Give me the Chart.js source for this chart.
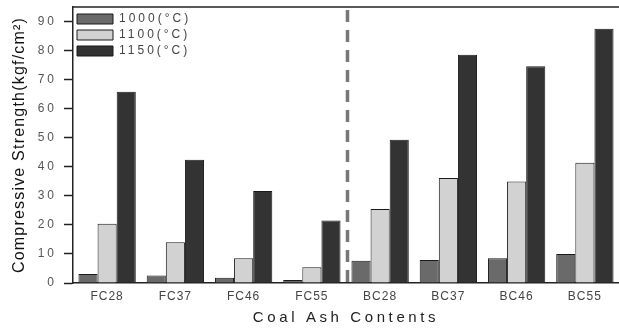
<!DOCTYPE html>
<html>
<head>
<meta charset="utf-8">
<script src="https://cdn.jsdelivr.net/npm/chart.js@4.4.1/dist/chart.umd.min.js"></script>
<style>
  html, body { margin: 0; padding: 0; background: #fff; }
  #wrap { width: 619px; height: 329px; }
</style>
</head>
<body>
<div id="wrap"><canvas id="chart" width="619" height="329"></canvas></div>
<script>
// values (kgf/cm2)
const categories = ["FC28", "FC37", "FC46", "FC55", "BC28", "BC37", "BC46", "BC55"];
const series1000 = [3.1, 2.6, 1.8, 1.0, 7.7, 7.9, 8.5, 10.0];
const series1100 = [20.4, 14.0, 8.5, 5.4, 25.5, 36.1, 34.9, 41.4];
const series1150 = [65.8, 42.4, 31.7, 21.5, 49.3, 78.6, 74.6, 87.5];
const seriesLabels = ["1000(°C)", "1100(°C)", "1150(°C)"];
const yMax = 95;
const yStep = 5;
const separatorAfter = 3; // dashed line between FC55 and BC28

Chart.defaults.font.family = "'Liberation Sans', Arial, sans-serif";

// canvas letter spacing for one draw method of a scale / the legend
function spaceOut(target, method, px) {
  if (!target || target["_sp_" + method]) return;
  const orig = target[method];
  target[method] = function (...args) {
    const ctx = this.ctx;
    const old = ctx.letterSpacing;
    ctx.letterSpacing = px + "px";
    try {
      return orig.apply(this, args);
    } finally {
      ctx.letterSpacing = old;
    }
  };
  target["_sp_" + method] = true;
}

const spacingPlugin = {
  id: "spacing",
  afterLayout(chart) {
    // legend sits inside the plot, just under the top frame
    const lg = chart.legend;
    if (lg) {
      const dy = chart.chartArea.top + 2 - lg.top;
      lg.top += dy;
      lg.bottom += dy;
    }
  },
  beforeDraw(chart) {
    spaceOut(chart.scales.x, "drawLabels", 1);
    spaceOut(chart.scales.x, "drawTitle", 3.6);
    spaceOut(chart.scales.y, "drawLabels", 3);
    spaceOut(chart.scales.y, "drawTitle", 1.2);
    spaceOut(chart.legend, "draw", 3);
  },
};

const framePlugin = {
  id: "frame",
  beforeDatasetsDraw(chart) {
    const { ctx, chartArea, scales: { x } } = chart;
    const sx = x.getPixelForValue(separatorAfter + 0.5) + 1.5;
    ctx.save();
    ctx.setLineDash([12, 8]);
    ctx.strokeStyle = "#777";
    ctx.lineWidth = 3.5;
    ctx.beginPath();
    ctx.moveTo(sx, chartArea.top + 3);
    ctx.lineTo(sx, chartArea.bottom);
    ctx.stroke();
    ctx.restore();
  },
  afterDraw(chart) {
    const { ctx, chartArea, scales: { y } } = chart;
    ctx.save();
    ctx.strokeStyle = "#222";
    ctx.lineWidth = 1.5;
    ctx.beginPath();
    ctx.moveTo(chartArea.left, chartArea.top);
    ctx.lineTo(chartArea.right, chartArea.top);
    // short minor ticks
    y.ticks.forEach((t) => {
      if (t.value % 10 !== 0) {
        const py = y.getPixelForValue(t.value);
        ctx.moveTo(chartArea.left - 5, py);
        ctx.lineTo(chartArea.left, py);
      }
    });
    ctx.stroke();
    ctx.restore();
  },
};

const barStyle = {
  borderColor: "#1a1a1a",
  borderWidth: 1,
  barPercentage: 1,
  categoryPercentage: 0.84,
};

new Chart(document.getElementById("chart"), {
  type: "bar",
  data: {
    labels: categories,
    datasets: [
      { label: seriesLabels[0], data: series1000, backgroundColor: "#6a6a6a", ...barStyle },
      { label: seriesLabels[1], data: series1100, backgroundColor: "#d2d2d2", ...barStyle },
      { label: seriesLabels[2], data: series1150, backgroundColor: "#333333", ...barStyle },
    ],
  },
  options: {
    responsive: false,
    animation: false,
    events: [],
    layout: { padding: { top: 7, right: 0, left: 0, bottom: 0 } },
    plugins: {
      tooltip: { enabled: false },
      legend: {
        position: "chartArea",
        align: "start",
        labels: {
          boxWidth: 36,
          boxHeight: 10,
          padding: 4,
          color: "#444",
          font: { size: 12 },
        },
      },
    },
    scales: {
      x: {
        offset: true,
        grid: { display: false, drawTicks: false },
        border: { color: "#222", width: 1.5 },
        ticks: { color: "#444", font: { size: 12 }, padding: 6, maxRotation: 0, autoSkip: false },
        title: {
          display: true,
          text: "Coal Ash Contents",
          color: "#222",
          font: { size: 15 },
          padding: { top: 0, bottom: 2 },
        },
        afterFit(scale) { scale.height = 46; },
      },
      y: {
        min: 0,
        max: yMax,
        ticks: {
          stepSize: yStep,
          color: "#555",
          font: { size: 12 },
          padding: 7,
          callback: (v) => (v % 10 === 0 ? String(v) : ""),
        },
        grid: {
          drawOnChartArea: false,
          tickLength: 9,
          tickWidth: 1.5,
          tickColor: (c) => (c.tick && c.tick.value % 10 === 0 ? "#222" : "rgba(0,0,0,0)"),
        },
        border: { color: "#222", width: 1.5 },
        title: {
          display: true,
          text: "Compressive Strength(kgf/cm²)",
          color: "#111",
          font: { size: 16 },
          padding: { top: 10, bottom: 0 },
        },
        afterFit(scale) {
          scale.width = 73;
          scale.paddingTop = 0;
          scale.paddingBottom = 0;
        },
      },
    },
  },
  plugins: [spacingPlugin, framePlugin],
});
</script>
</body>
</html>
